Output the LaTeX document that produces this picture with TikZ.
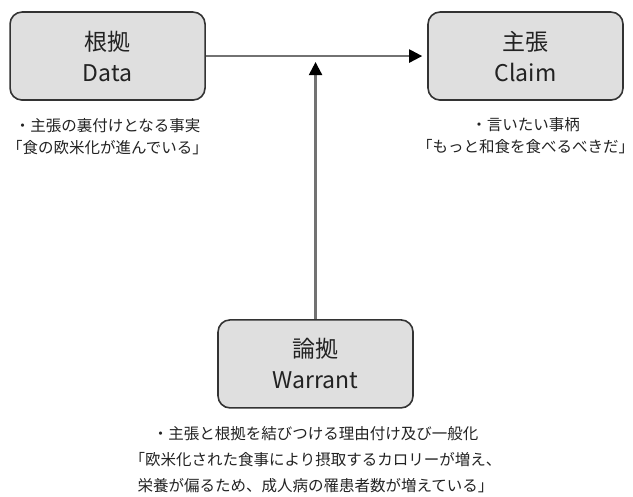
\documentclass[tikz,border=0pt]{standalone}
\usepackage{fontspec}
\setmainfont{Noto Sans CJK JP}
\usepackage{tikz}
\usetikzlibrary{arrows.meta, positioning, calc}
\usepackage{xcolor}
\definecolor{boxgray}{HTML}{DFDFDF}
\definecolor{edgegray}{HTML}{333333}
\definecolor{linegray}{HTML}{727272}
\definecolor{textdark}{HTML}{222222}

\begin{document}
\begin{tikzpicture}[
  part/.style={rectangle, rounded corners=12pt, draw=edgegray, fill=boxgray,
    line width=1.6pt, minimum width=195pt, minimum height=88pt,
    align=center, text=textdark, font=\fontsize{23}{31}\selectfont},
  note/.style={align=center, inner sep=0pt, text=textdark,
    font=\fontsize{15.5}{22}\selectfont},
  arr/.style={-{Triangle[length=13pt, width=13pt, color=black]},
    linegray, line width=2.2pt},
]
  \useasboundingbox (0,0) rectangle (633pt,-497pt);

  \node[part] (data) at (3.78,-1.97) {根拠\\Data};
  \node[part] (claim) at (18.47,-1.97) {主張\\Claim};
  \node[part] (warrant) at (11.09,-12.79) {論拠\\Warrant};

  \node[note, below=17pt of data] (datanote) {
    ・主張の裏付けとなる事実\\
    「食の欧米化が進んでいる」};
  \node[note, below=16pt of claim] (claimnote) {
    ・言いたい事柄\\
    「もっと和食を食べるべきだ」};
  \node[note, below=18pt of warrant, font=\fontsize{15.5}{26}\selectfont] (warrantnote) {
    ・主張と根拠を結びつける理由付け及び一般化\\
    「欧米化された食事により摂取するカロリーが増え、\\
    栄養が偏るため、成人病の罹患者数が増えている」};

  \coordinate (join) at (warrant.north |- data.east);
  \draw[arr, shorten >=5pt] (data.east) -- (claim.west);
  \draw[arr, shorten >=6pt] (warrant.north) -- (join);
\end{tikzpicture}
\end{document}
